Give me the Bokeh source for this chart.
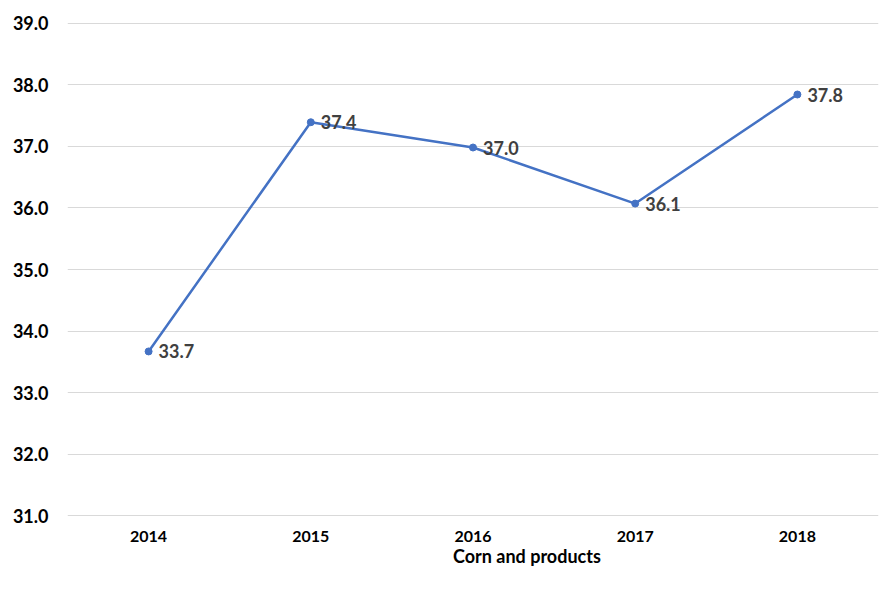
from bokeh.plotting import figure
from bokeh.layouts import column
from bokeh.models import ColumnDataSource, Legend, LegendItem, FixedTicker, LabelSet, Range1d
from bokeh.core.properties import value
from bokeh.embed import file_html
from bokeh.resources import INLINE

years = ["2014", "2015", "2016", "2017", "2018"]
values = [33.67, 37.39, 36.98, 36.07, 37.84]
labels = ["33.7", "37.4", "37.0", "36.1", "37.8"]
series_name = "Corn and products"
y_ticks = [31, 32, 33, 34, 35, 36, 37, 38, 39]

FONT = "Lato"
BLUE = "#4472C4"

src = ColumnDataSource(dict(x=years, y=values, lab=labels))

p = figure(x_range=years, y_range=Range1d(30.975, 39.025),
           frame_width=811, frame_height=496, height=558,
           output_backend="svg", toolbar_location=None,
           min_border_left=67, min_border_right=13, min_border_top=21, min_border_bottom=0)
p.x_range.range_padding = 0
p.outline_line_color = None
p.background_fill_color = "white"
p.border_fill_color = "white"

p.xgrid.grid_line_color = None
p.ygrid.grid_line_color = "#d9d9d9"
p.ygrid.grid_line_width = 1
p.ygrid.ticker = FixedTicker(ticks=y_ticks)

p.yaxis.ticker = FixedTicker(ticks=y_ticks)
p.yaxis.major_label_overrides = {t: f"{t:.1f}" for t in y_ticks}
p.yaxis.axis_line_color = None
p.yaxis.major_tick_line_color = None
p.yaxis.minor_tick_line_color = None
p.yaxis.major_label_text_font = FONT
p.yaxis.major_label_text_font_style = "bold"
p.yaxis.major_label_text_font_size = "18px"
p.yaxis.major_label_text_color = "#000000"
p.yaxis.major_label_standoff = 13

p.xaxis.axis_line_color = None
p.xaxis.major_tick_line_color = None
p.xaxis.minor_tick_line_color = None
p.xaxis.major_tick_out = 0
p.xaxis.major_tick_in = 0
p.xaxis.axis_label_standoff = 0
p.xaxis.major_label_text_font = FONT
p.xaxis.major_label_text_font_style = "bold"
p.xaxis.major_label_text_font_size = "16px"
p.xaxis.major_label_text_color = "#000000"
p.xaxis.major_label_standoff = 13

p.line("x", "y", source=src, line_color=BLUE, line_width=2.5)
p.scatter("x", "y", source=src, size=7, fill_color=BLUE, line_color=BLUE)

lbl = LabelSet(x="x", y="y", text="lab", source=src, x_offset=10, y_offset=0,
               text_font=value(FONT), text_font_style="bold", text_font_size="18px",
               text_color="#404040", text_baseline="middle", text_align="left")
p.add_layout(lbl)

# Separate strip for the legend (legend glyphs come from empty renderers)
lf = figure(width=891, height=36, x_range=Range1d(0, 1), y_range=Range1d(0, 1),
            output_backend="svg", toolbar_location=None,
            min_border_left=0, min_border_right=0, min_border_top=0, min_border_bottom=0)
lf.axis.visible = False
lf.grid.visible = False
lf.outline_line_color = None
lf.background_fill_color = "white"
lf.border_fill_color = "white"
empty = ColumnDataSource(dict(x=[], y=[]))
lln = lf.line("x", "y", source=empty, line_color=BLUE, line_width=2.5)
lsc = lf.scatter("x", "y", source=empty, size=7, fill_color=BLUE, line_color=BLUE)

legend = Legend(items=[LegendItem(label=series_name, renderers=[lln, lsc])],
                orientation="horizontal", location=(356, 13),
                border_line_color=None, background_fill_alpha=0,
                label_text_font=FONT, label_text_font_style="bold",
                label_text_font_size="18px", label_text_color="#000000",
                label_height=16, glyph_height=16,
                glyph_width=28, label_standoff=2, padding=0, margin=0, spacing=0)
lf.add_layout(legend, "center")

layout = column(p, lf, spacing=0)
open("out.html", "w").write(file_html(layout, INLINE))
